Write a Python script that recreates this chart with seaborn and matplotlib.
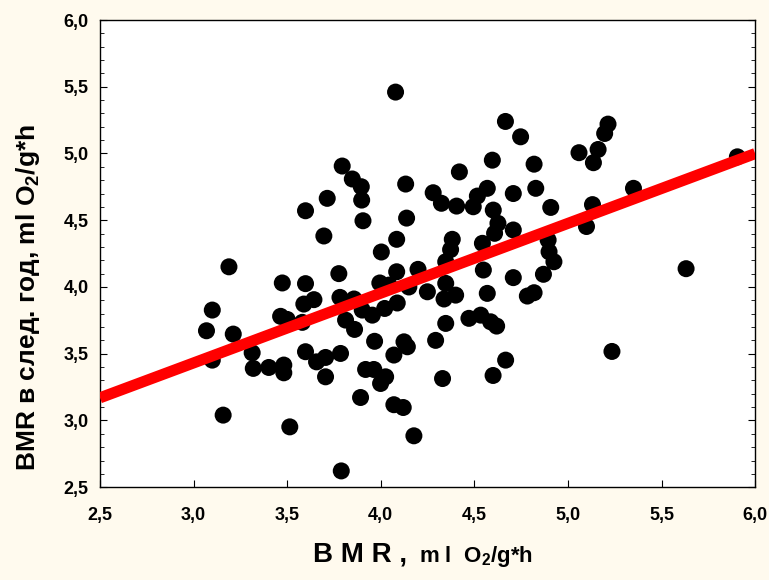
import numpy as np
import pandas as pd
import matplotlib
matplotlib.use("Agg")
import matplotlib.pyplot as plt
import seaborn as sns
from matplotlib.ticker import MultipleLocator, FixedLocator, FixedFormatter
from matplotlib.offsetbox import TextArea, HPacker, AnnotationBbox

# BMR in the current year (x) and in the following year (y), ml O2/g*h
bmr_year = [
    4.079, 4.666, 4.747, 5.214, 5.196, 5.161, 5.059, 5.136, 5.905, 4.596,
    4.819, 4.420, 3.794, 3.848, 3.896, 3.898, 3.714, 3.598, 4.133, 4.280,
    4.324, 4.405, 4.494, 4.516, 4.569, 4.708, 4.828, 4.908, 5.131, 5.350,
    4.601, 3.905, 4.138, 4.626, 4.608, 4.708, 3.696, 4.085, 4.382, 4.373,
    4.543, 4.003, 4.894, 4.899, 4.925, 4.347, 5.099, 3.189, 3.776, 4.085,
    4.199, 4.548, 4.708, 4.869, 5.631, 3.474, 3.598, 3.995, 4.044, 4.150,
    4.347, 4.249, 4.338, 4.400, 4.569, 4.783, 4.819, 3.782, 3.857, 3.901,
    3.955, 4.021, 4.088, 3.589, 3.643, 3.100, 3.069, 3.212, 3.465, 3.500,
    3.581, 3.812, 3.860, 4.347, 4.471, 4.534, 4.587, 4.619, 4.293, 3.967,
    4.124, 4.142, 5.235, 4.070, 3.100, 3.313, 3.319, 3.402, 3.482, 3.482,
    3.598, 3.657, 3.705, 3.785, 3.705, 3.919, 3.963, 4.026, 3.999, 3.892,
    4.070, 4.120, 4.177, 3.158, 3.514, 3.789, 4.667, 4.600, 4.330,
]
bmr_next_year = [
    5.460, 5.240, 5.125, 5.220, 5.150, 5.030, 5.006, 4.931, 4.975, 4.950,
    4.920, 4.862, 4.906, 4.809, 4.751, 4.651, 4.664, 4.571, 4.771, 4.706,
    4.627, 4.606, 4.601, 4.681, 4.739, 4.700, 4.739, 4.596, 4.617, 4.739,
    4.576, 4.496, 4.516, 4.477, 4.402, 4.427, 4.382, 4.357, 4.357, 4.280,
    4.327, 4.262, 4.352, 4.264, 4.189, 4.189, 4.453, 4.151, 4.100, 4.114,
    4.132, 4.127, 4.070, 4.095, 4.137, 4.030, 4.025, 4.030, 4.014, 4.000,
    4.027, 3.964, 3.910, 3.939, 3.952, 3.932, 3.957, 3.922, 3.910, 3.827,
    3.789, 3.839, 3.880, 3.872, 3.905, 3.827, 3.672, 3.647, 3.780, 3.757,
    3.735, 3.752, 3.682, 3.727, 3.765, 3.789, 3.739, 3.707, 3.600, 3.593,
    3.589, 3.552, 3.517, 3.490, 3.452, 3.507, 3.390, 3.397, 3.415, 3.357,
    3.515, 3.439, 3.472, 3.502, 3.327, 3.382, 3.382, 3.327, 3.277, 3.172,
    3.118, 3.097, 2.885, 3.040, 2.952, 2.622, 3.452, 3.337, 3.314,
]

tick_values = [2.5, 3.0, 3.5, 4.0, 4.5, 5.0, 5.5, 6.0]
tick_labels = ["2,5", "3,0", "3,5", "4,0", "4,5", "5,0", "5,5", "6,0"]

df = pd.DataFrame({"x": bmr_year, "y": bmr_next_year})

sns.set_theme(style="white")
plt.rcParams["font.family"] = ["Liberation Sans", "DejaVu Sans"]
plt.rcParams["text.color"] = "black"
plt.rcParams["axes.labelcolor"] = "black"
plt.rcParams["xtick.color"] = "black"
plt.rcParams["ytick.color"] = "black"
plt.rcParams["mathtext.fontset"] = "custom"
plt.rcParams["mathtext.bf"] = "Liberation Sans:bold"
plt.rcParams["mathtext.rm"] = "Liberation Sans:bold"
plt.rcParams["mathtext.default"] = "bf"

fig = plt.figure(figsize=(7.69, 5.80), dpi=100, facecolor="#fffaee")
ax = fig.add_axes([0.130, 0.160, 0.852, 0.8055])
ax.set_facecolor("white")

# limits first so the fitted line spans the full x range
ax.set_xlim(2.5, 6.0)
ax.set_ylim(2.5, 6.0)

sns.regplot(
    data=df, x="x", y="y", ax=ax, ci=None, truncate=False,
    scatter_kws=dict(s=150, color="black", edgecolor="none", alpha=1, zorder=2),
    line_kws=dict(color="#ff0000", lw=8, zorder=3, solid_capstyle="butt"),
)

ax.set_xlim(2.5, 6.0)
ax.set_ylim(2.5, 6.0)

ax.xaxis.set_major_locator(FixedLocator(tick_values))
ax.xaxis.set_major_formatter(FixedFormatter(tick_labels))
ax.yaxis.set_major_locator(FixedLocator(tick_values))
ax.yaxis.set_major_formatter(FixedFormatter(tick_labels))
ax.yaxis.set_minor_locator(MultipleLocator(0.1))

ax.tick_params(axis="both", which="major", direction="in", length=5, width=0.8,
               color="black", labelsize=13, labelcolor="black")
ax.tick_params(axis="x", which="major", pad=14, bottom=True, top=False)
ax.tick_params(axis="y", which="major", pad=8)
ax.tick_params(axis="y", which="both", left=True, right=True)
ax.tick_params(axis="y", which="minor", direction="in", length=3, width=0.6, color="black")
for lab in ax.get_xticklabels() + ax.get_yticklabels():
    lab.set_fontweight("bold")

for sp in ax.spines.values():
    sp.set_color("black")
    sp.set_linewidth(1.0)

ax.set_xlabel("")
ax.set_ylabel(r"BMR в след. год, ml O$_2$/g*h", fontsize=19, fontweight="bold")
ax.yaxis.set_label_coords(-0.088, 0.407)

# x-axis title: large "BMR," followed by smaller units
part_main = TextArea("B M R ,", textprops=dict(fontsize=20, fontweight="bold", color="black"))
part_units = TextArea(r"m l  O$_2$/g*h", textprops=dict(fontsize=16, fontweight="bold", color="black"))
title_box = HPacker(children=[part_main, part_units], align="baseline", pad=0, sep=9)
ab = AnnotationBbox(title_box, (0.493, -0.146), xycoords="axes fraction",
                    frameon=False, box_alignment=(0.5, 0.5), annotation_clip=False)
ax.add_artist(ab)

fig.savefig("out.png", dpi=100, facecolor=fig.get_facecolor())
